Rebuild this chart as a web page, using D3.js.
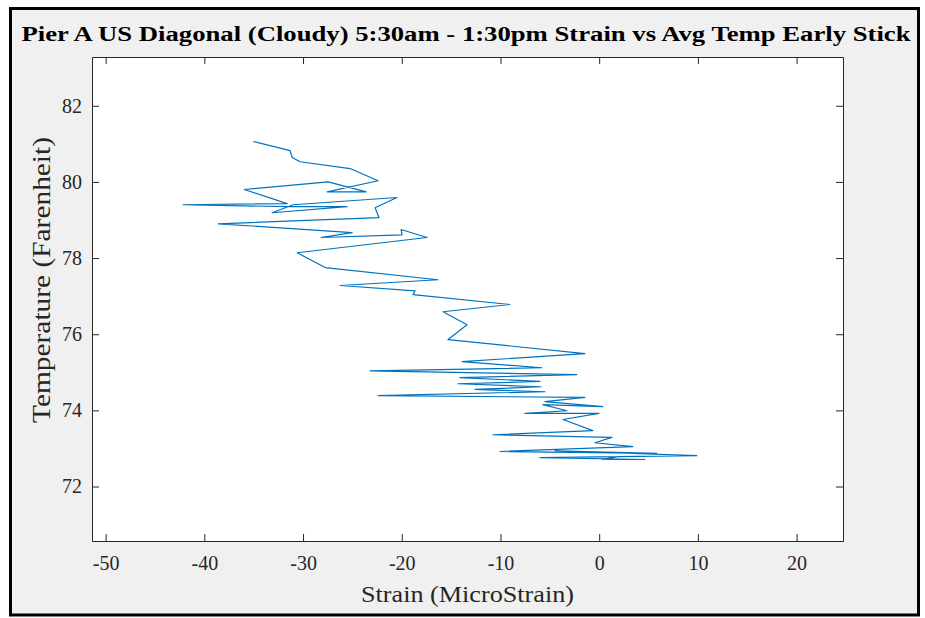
<!DOCTYPE html>
<html>
<head>
<meta charset="utf-8">
<script src="https://cdn.jsdelivr.net/npm/d3@7"></script>
<style>
  body { margin: 0; background: #fff; }
  svg { display: block; }
  text { font-family: "Times New Roman", "Liberation Serif", Tinos, serif; }
</style>
</head>
<body>
<script>
// strain (microstrain) and avg temperature (F), in time order
const strain = [
  -35.05, -31.31, -31.1, -30.29, -25.23, -22.4, -27.56, -23.61, -27.46, -35.96,
  -31.61, -42.14, -31.31, -25.54, -33.13, -31.0, -20.48, -22.7, -22.3, -38.59,
  -25.03, -28.17, -19.97, -20.07, -17.44, -30.6, -27.76, -16.33, -26.25, -18.65,
  -18.86, -9.04, -15.82, -13.39, -15.31, -1.45, -13.9, -5.8, -23.21, -2.26,
  -14.1, -6.0, -14.3, -5.9, -12.58, -5.5, -22.4, -1.45, -5.5, 0.37,
  -5.7, -3.27, -7.52, -0.03, -3.67, -0.64, -10.76, 1.29, -0.43, 3.41,
  -10.05, 5.84, -4.48, 9.89, -6.0, 4.63, 0.27, 2.09
];
const temp = [
  81.06, 80.82, 80.64, 80.53, 80.35, 80.03, 79.74, 79.74, 80.0, 79.8,
  79.43, 79.40, 79.35, 79.35, 79.19, 79.40, 79.59, 79.32, 79.06, 78.90,
  78.67, 78.54, 78.61, 78.75, 78.54, 78.14, 77.75, 77.43, 77.28, 77.14,
  77.04, 76.78, 76.59, 76.25, 75.86, 75.49, 75.28, 75.12, 75.04, 74.94,
  74.86, 74.76, 74.70, 74.62, 74.55, 74.49, 74.39, 74.34, 74.23, 74.10,
  74.15, 73.99, 73.92, 73.92, 73.76, 73.47, 73.36, 73.29, 73.15, 73.05,
  72.92, 72.87, 72.94, 72.81, 72.76, 72.71, 72.71, 72.79
];
const xTicks = [-50, -40, -30, -20, -10, 0, 10, 20];
const yTicks = [72, 74, 76, 78, 80, 82];
const xLimits = [-51.38, 24.7];
const yLimits = [70.57, 83.28];

const titleText = "Pier A US Diagonal (Cloudy) 5:30am - 1:30pm Strain vs Avg Temp Early Stick";
const xLabelText = "Strain (MicroStrain)";
const yLabelText = "Temperature (Farenheit)";

const width = 925, height = 618;
const plotLeft = 92, plotRight = 843, plotTop = 57, plotBottom = 541;
const axisColor = "#262626";

const svg = d3.select("body").append("svg")
    .attr("width", width)
    .attr("height", height);

// figure window (gray with black frame)
svg.append("rect")
    .attr("x", 10.5).attr("y", 8.5)
    .attr("width", 908).attr("height", 606.5)
    .attr("fill", "#f0f0f0")
    .attr("stroke", "#000")
    .attr("stroke-width", 3);

const x = d3.scaleLinear().domain(xLimits).range([plotLeft, plotRight]);
const y = d3.scaleLinear().domain(yLimits).range([plotBottom, plotTop]);

svg.append("rect")
    .attr("x", plotLeft).attr("y", plotTop)
    .attr("width", plotRight - plotLeft).attr("height", plotBottom - plotTop)
    .attr("fill", "#fff");

const data = strain.map((s, i) => [s, temp[i]]);

svg.append("path")
    .datum(data)
    .attr("fill", "none")
    .attr("stroke", "#0072BD")
    .attr("stroke-width", 1.2)
    .attr("stroke-linejoin", "round")
    .attr("d", d3.line().x(d => x(d[0])).y(d => y(d[1])));

const plain = d => String(d); // hyphen minus like matlab

function styleAxis(g) {
    g.selectAll("path").attr("stroke", axisColor);
    g.selectAll("line").attr("stroke", axisColor);
    g.selectAll("text")
        .attr("fill", axisColor)
        .attr("font-family", null)
        .attr("font-size", null)
        .style("font-size", "20px");
}

svg.append("g")
    .attr("transform", `translate(0,${plotBottom})`)
    .call(d3.axisBottom(x).tickValues(xTicks).tickFormat(plain).tickSizeInner(-7).tickSizeOuter(0).tickPadding(15))
    .call(styleAxis);

svg.append("g")
    .attr("transform", `translate(0,${plotTop})`)
    .call(d3.axisTop(x).tickValues(xTicks).tickSizeInner(-7).tickSizeOuter(0).tickFormat(""))
    .call(styleAxis);

svg.append("g")
    .attr("transform", `translate(${plotLeft},0)`)
    .call(d3.axisLeft(y).tickValues(yTicks).tickFormat(plain).tickSizeInner(-7).tickSizeOuter(0).tickPadding(10))
    .call(styleAxis);

svg.append("g")
    .attr("transform", `translate(${plotRight},0)`)
    .call(d3.axisRight(y).tickValues(yTicks).tickSizeInner(-7).tickSizeOuter(0).tickFormat(""))
    .call(styleAxis);

// title and axis labels
svg.append("text")
    .attr("x", 466).attr("y", 40.5)
    .attr("text-anchor", "middle")
    .attr("textLength", 889)
    .attr("lengthAdjust", "spacingAndGlyphs")
    .style("font-weight", "bold")
    .style("font-size", "20px")
    .attr("fill", "#000")
    .text(titleText);

svg.append("text")
    .attr("x", (plotLeft + plotRight) / 2).attr("y", 601.5)
    .attr("text-anchor", "middle")
    .attr("textLength", 213)
    .attr("lengthAdjust", "spacingAndGlyphs")
    .style("font-size", "24px")
    .attr("fill", axisColor)
    .text(xLabelText);

svg.append("text")
    .attr("transform", "translate(50,280) rotate(-90)")
    .attr("text-anchor", "middle")
    .attr("textLength", 286)
    .attr("lengthAdjust", "spacingAndGlyphs")
    .style("font-size", "26px")
    .attr("fill", axisColor)
    .text(yLabelText);
</script>
</body>
</html>
